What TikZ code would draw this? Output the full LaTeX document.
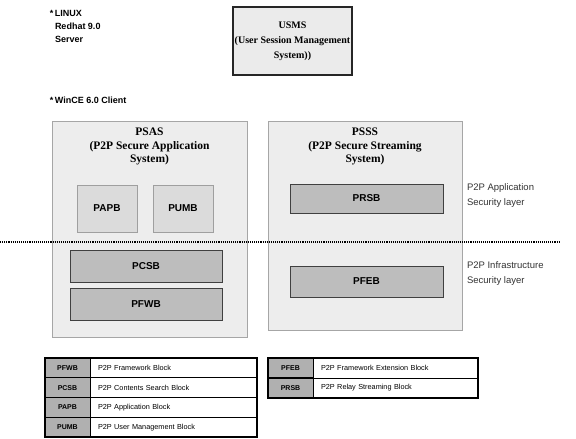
\documentclass[tikz,border=0pt]{standalone}
\usepackage{fontspec}
\setmainfont{Liberation Serif}
\setsansfont{Liberation Sans}
\usetikzlibrary{positioning,calc}

\tikzset{
  note/.style={font=\sffamily\bfseries\fontsize{9}{13}\selectfont, align=left},
  titletxt/.style={font=\rmfamily\bfseries\fontsize{11.5}{13.5}\selectfont, align=center},
  sysbox/.style={draw=gray!70, fill=gray!14, line width=0.9pt},
  usmsbox/.style={draw=black!85, fill=gray!16, line width=1.4pt,
    font=\rmfamily\bfseries\fontsize{10}{15}\selectfont, align=center},
  appblk/.style={draw=gray!75, fill=gray!28, line width=0.9pt,
    font=\sffamily\bfseries\fontsize{10}{12}\selectfont},
  infblk/.style={draw=black!75, fill=gray!52, line width=0.9pt,
    font=\sffamily\bfseries\fontsize{10}{12}\selectfont},
  side/.style={font=\sffamily\fontsize{9.5}{14.5}\selectfont, align=left, text=black!80},
  layerline/.style={densely dotted, line width=1.1pt},
  legkey/.style={draw, fill=gray!62, line width=0.7pt, minimum width=45, minimum height=19.75,
    font=\sffamily\bfseries\fontsize{7}{8}\selectfont},
  legval/.style={draw, line width=0.7pt, minimum height=19.75, inner xsep=8pt, align=left,
    font=\sffamily\fontsize{7.3}{8}\selectfont},
  legframe/.style={line width=1.5pt}
}

\begin{document}
\begin{tikzpicture}[x=1pt,y=-1pt,every node/.style={inner sep=0pt,outer sep=0pt}]
  \useasboundingbox (0,0) rectangle (576,439);

  % server / client notes
  \node[note, anchor=north west] (linux) at (55,10) {\llap{*\,}LINUX\\Redhat 9.0\\Server};
  \node[usmsbox, minimum width=119, minimum height=68] (usms) at (292.5,41)
    {USMS\\(User Session Management\\System))};
  \node[note, anchor=west] (wince) at (55,100) {\llap{*\,}WinCE 6.0 Client};

  % PSAS
  \node[sysbox, minimum width=195, minimum height=216] (psas) at (149.5,229) {};
  \node[titletxt, anchor=north] (psast) at ($(psas.north)+(0,7)$) {PSAS\\(P2P Secure Application\\System)};
  \node[appblk, minimum width=60, minimum height=47] (papb) at (107,208.5) {PAPB};
  \node[appblk, minimum width=60, minimum height=47] (pumb) at (183,208.5) {PUMB};
  \node[infblk, minimum width=152, minimum height=32] (pcsb) at (146,266) {PCSB};
  \node[infblk, minimum width=152, minimum height=32] (pfwb) at (146,304) {PFWB};

  % PSSS
  \node[sysbox, minimum width=194, minimum height=209] (psss) at (365,225.5) {};
  \node[titletxt, anchor=north] (pssst) at ($(psss.north)+(0,7)$) {PSSS\\(P2P Secure Streaming\\System)};
  \node[infblk, minimum width=153, minimum height=29] (prsb) at (366.5,198.5) {PRSB};
  \node[infblk, minimum width=153, minimum height=31] (pfeb) at (366.5,281.5) {PFEB};

  % layers
  \coordinate (dl) at (0,242);
  \coordinate (dr) at (560,242);
  \draw[layerline] (dl) -- (dr);
  \node[side, anchor=north west] (applyr) at (467,184) {P2P Application\\Security layer};
  \node[side, anchor=north west] (inflyr) at (467,262) {P2P Infrastructure\\Security layer};

  % legends
  \foreach \k/\t [count=\i] in {PFWB/P2P Framework Block,PCSB/P2P Contents Search Block,
      PAPB/P2P Application Block,PUMB/P2P User Management Block}{
    \node[legkey, anchor=north west] (ka\i) at (45,{358+(\i-1)*19.75}) {\k};
    \node[legval, text width=151, anchor=west] (va\i) at (ka\i.east) {\t};
  }
  \draw[legframe] (ka1.north west) rectangle (va4.south east);
  \foreach \k/\t [count=\i] in {PFEB/P2P Framework Extension Block,PRSB/P2P Relay Streaming Block}{
    \node[legkey, anchor=north west] (kb\i) at (268,{358+(\i-1)*20}) {\k};
    \node[legval, text width=149, minimum height=20, anchor=west] (vb\i) at (kb\i.east) {\t};
  }
  \draw[legframe] (kb1.north west) rectangle (vb2.south east);
\end{tikzpicture}
\end{document}
